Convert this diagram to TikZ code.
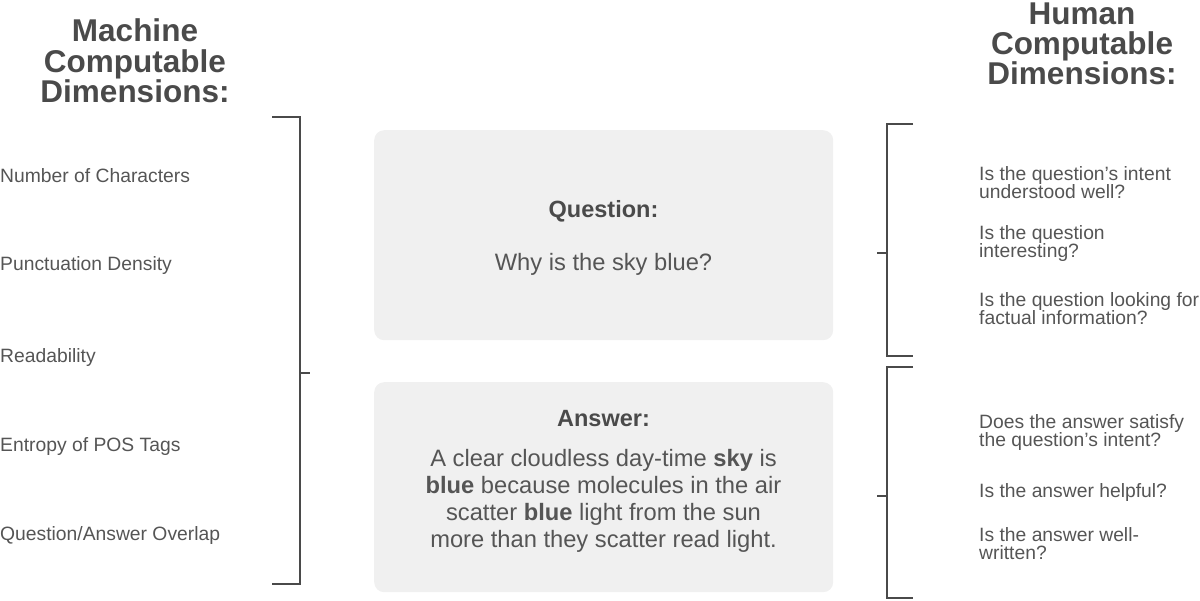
\documentclass[tikz,border=0pt]{standalone}
\usepackage{fontspec}
\setmainfont{Liberation Sans}
\definecolor{txtc}{HTML}{555555}
\definecolor{ttlc}{HTML}{4A4A4A}
\definecolor{boxc}{HTML}{F0F0F0}
\definecolor{linec}{HTML}{4A4A4A}
\begin{document}
\begin{tikzpicture}[x=1pt,y=-1pt,
  item/.style={anchor=base west, inner sep=0pt, text=txtc, font=\fontsize{19.3}{17.5}\selectfont, align=left},
  ttl/.style={anchor=base, inner sep=0pt, text=ttlc, font=\fontsize{31.5}{30.5}\selectfont\bfseries, align=center},
  panel/.style={fill=boxc, rounded corners=10pt, draw=none, inner sep=0pt, anchor=north west, minimum width=459pt},
  plab/.style={anchor=base, inner sep=0pt, text=ttlc, font=\fontsize{23.5}{26.7}\selectfont\bfseries},
  ptxt/.style={anchor=base, inner sep=0pt, text=txtc, font=\fontsize{23.7}{26.7}\selectfont, align=center},
  brk/.style={draw=linec, line width=1.4pt}]
\useasboundingbox (0,0) rectangle (1200,601);

% titles
\node[ttl] (lt1) at (135,42) {Machine};
\node[ttl] (lt2) at (135,73) {Computable};
\node[ttl] (lt3) at (135,103) {Dimensions:};
\node[ttl] (rt1) at (1082,25) {Human};
\node[ttl] (rt2) at (1082,55) {Computable};
\node[ttl] (rt3) at (1082,85) {Dimensions:};

% left items
\node[item] (m1) at (0,183) {Number of Characters};
\node[item] (m2) at (0,271) {Punctuation Density};
\node[item] (m3) at (0,363) {Readability};
\node[item] (m4) at (0,452) {Entropy of POS Tags};
\node[item] (m5) at (0,540) {Question/Answer Overlap};

% panels
\node[panel, minimum height=210pt] (qbox) at (374,130) {};
\node[panel, minimum height=210pt] (abox) at (374,382) {};
\node[plab] (qlab) at (603.5,218) {Question:};
\node[ptxt] (qtxt) at (603.5,271) {Why is the sky blue?};
\node[plab] (alab) at (603.5,427) {Answer:};
\node[ptxt] (atxt) at (603.5,547) {A clear cloudless day-time \textbf{sky} is\\ \textbf{blue} because molecules in the air\\ scatter \textbf{blue} light from the sun\\ more than they scatter read light.};

% right items (anchored at the baseline of their last line)
\node[item] (h1) at (979,199) {Is the question’s intent\\ understood well?};
\node[item] (h2) at (979,258) {Is the question\\ interesting?};
\node[item] (h3) at (979,325) {Is the question looking for\\ factual information?};
\node[item] (h4) at (979,447) {Does the answer satisfy\\ the question’s intent?};
\node[item] (h5) at (979,497) {Is the answer helpful?};
\node[item] (h6) at (979,559) {Is the answer well-\\ written?};

% brackets
\coordinate (la) at (272,117);
\coordinate (lb) at (272,584);
\coordinate (lc) at (300,373);
\coordinate (ld) at (310,373);
\draw[brk] (la) -| (lc) |- (lb);
\draw[brk] (lc) -- (ld);

\coordinate (ra) at (913,124);
\coordinate (rb) at (913,356);
\coordinate (rc) at (887,253);
\coordinate (rd) at (877,253);
\draw[brk] (ra) -| (rc) |- (rb);
\draw[brk] (rc) -- (rd);

\coordinate (sa) at (913,367);
\coordinate (sb) at (913,598);
\coordinate (sc) at (887,496);
\coordinate (sd) at (877,496);
\draw[brk] (sa) -| (sc) |- (sb);
\draw[brk] (sc) -- (sd);
\end{tikzpicture}
\end{document}
